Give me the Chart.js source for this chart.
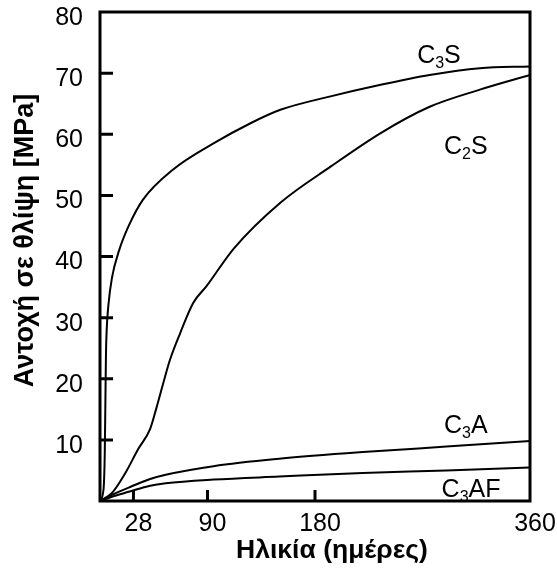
<!DOCTYPE html>
<html><head><meta charset="utf-8">
<script src="https://cdn.jsdelivr.net/npm/chart.js@4/dist/chart.umd.min.js"></script>
<style>html,body{margin:0;padding:0;background:#fff;}canvas{display:block;}</style>
</head><body>
<canvas id="c" width="557" height="569"></canvas>
<script>
// ---- data ----
const xTickValues = [28, 90, 180, 360];
const yTickValues = [10, 20, 30, 40, 50, 60, 70, 80];

const c3sDays = [0, 3, 4, 4.5, 5, 5.6, 7, 10, 16, 24, 36, 61, 95, 126, 151, 193, 235, 276, 318, 360];
const c3sMPa  = [0, 2, 8, 16, 24, 28, 32, 36.5, 41, 45, 49.3, 54.2, 58.5, 61.8, 64, 66.2, 68.1, 69.7, 70.8, 71.1];

const c2sDays = [0, 10, 21, 32, 42, 47.5, 54.4, 58.6, 67, 78, 89, 112, 151, 193, 235, 276, 318, 360];
const c2sMPa  = [0, 1.3, 4.5, 8.5, 11.8, 15.4, 20.3, 23.1, 27.4, 32.4, 35.1, 41.3, 48.8, 54.7, 60.2, 64.5, 67.3, 69.7];

const c3aDays = [0, 10, 24, 42, 55, 95, 150, 220, 290, 360];
const c3aMPa  = [0, 1.0, 2.2, 3.6, 4.3, 5.7, 6.9, 8.0, 8.9, 9.8];

const c3afDays = [0, 10, 24, 42, 55, 95, 150, 220, 290, 360];
const c3afMPa  = [0, 0.7, 1.5, 2.5, 2.9, 3.5, 4.0, 4.6, 5.0, 5.5];

const seriesNames = ['C3S', 'C2S', 'C3A', 'C3AF'];
const xTitle = 'Ηλικία (ημέρες)';
const yTitle = 'Αντοχή σε θλίψη [MPa]';

// ---- chart ----
const FONT = '"Liberation Sans", Arial, sans-serif';
const toPts = (xs, ys) => xs.map((x, i) => ({x: x, y: ys[i]}));
const mkDs = (label, xs, ys) => ({
  label, data: toPts(xs, ys), showLine: true, borderColor: '#000', borderWidth: 2,
  pointRadius: 0, fill: false, cubicInterpolationMode: 'monotone'
});

// label anchors in data units: [main, sub, tail, day, MPa]
const curveLabels = [
  ['C', '3', 'S', 265.5, 71.7],
  ['C', '2', 'S', 288, 56.8],
  ['C', '3', 'A', 288, 11.1],
  ['C', '3', 'AF', 286, 0.6]
];

const decorPlugin = {
  id: 'decor',
  afterDatasetsDraw(chart) {
    const {ctx, chartArea: a, scales: {x, y}} = chart;
    ctx.save();
    ctx.strokeStyle = '#000';
    ctx.lineWidth = 3;
    ctx.lineJoin = 'miter';
    ctx.strokeRect(a.left, a.top, a.right - a.left, a.bottom - a.top);
    ctx.beginPath();
    yTickValues.forEach(v => {
      if (v >= 80) return;
      const py = y.getPixelForValue(v);
      ctx.moveTo(a.left, py); ctx.lineTo(a.left + 13, py);
    });
    xTickValues.forEach(v => {
      if (v >= 360) return;
      const px = x.getPixelForValue(v);
      ctx.moveTo(px, a.bottom); ctx.lineTo(px, a.bottom - 11);
    });
    ctx.stroke();

    // curve labels with subscripts
    ctx.fillStyle = '#000';
    ctx.textBaseline = 'alphabetic';
    ctx.textAlign = 'left';
    curveLabels.forEach(([m, s, t, d, v]) => {
      let px = x.getPixelForValue(d), py = y.getPixelForValue(v);
      ctx.font = '25px ' + FONT;
      ctx.fillText(m, px, py);
      px += ctx.measureText(m).width;
      ctx.font = '16px ' + FONT;
      ctx.fillText(s, px, py + 5);
      px += ctx.measureText(s).width;
      ctx.font = '25px ' + FONT;
      ctx.fillText(t, px, py);
    });

    // axis titles
    ctx.textAlign = 'center';
    ctx.font = 'bold 26.5px ' + FONT;
    ctx.fillText(xTitle, (a.left + a.right) / 2 + 17, 558);
    ctx.font = 'bold 27px ' + FONT;
    ctx.translate(33, (a.top + a.bottom) / 2 - 16);
    ctx.rotate(-Math.PI / 2);
    ctx.fillText(yTitle, 0, 0);
    ctx.restore();
  }
};

new Chart(document.getElementById('c'), {
  type: 'scatter',
  data: {
    datasets: [
      mkDs(seriesNames[0], c3sDays, c3sMPa),
      mkDs(seriesNames[1], c2sDays, c2sMPa),
      mkDs(seriesNames[2], c3aDays, c3aMPa),
      mkDs(seriesNames[3], c3afDays, c3afMPa)
    ]
  },
  options: {
    responsive: false,
    animation: false,
    events: [],
    layout: {padding: {left: 0, top: 12, right: 27, bottom: 0}},
    plugins: {legend: {display: false}, tooltip: {enabled: false}},
    scales: {
      x: {
        type: 'linear', min: 0, max: 360,
        afterBuildTicks: s => { s.ticks = xTickValues.map(v => ({value: v})); },
        afterFit: s => { s.height = 68; s.paddingLeft = 0; s.paddingRight = 0; },
        grid: {display: false, drawTicks: false},
        border: {display: false},
        ticks: {font: {family: FONT, size: 25}, color: '#000', padding: 8, labelOffset: 5,
                maxRotation: 0, minRotation: 0, autoSkip: false}
      },
      y: {
        type: 'linear', min: 0, max: 80,
        afterBuildTicks: s => { s.ticks = yTickValues.map(v => ({value: v})); },
        afterFit: s => { s.width = 100; s.paddingTop = 0; s.paddingBottom = 0; },
        grid: {display: false, drawTicks: false},
        border: {display: false},
        ticks: {font: {family: FONT, size: 25}, color: '#000', padding: 17, labelOffset: 6, autoSkip: false}
      }
    }
  },
  plugins: [decorPlugin]
});
</script>
</body></html>
